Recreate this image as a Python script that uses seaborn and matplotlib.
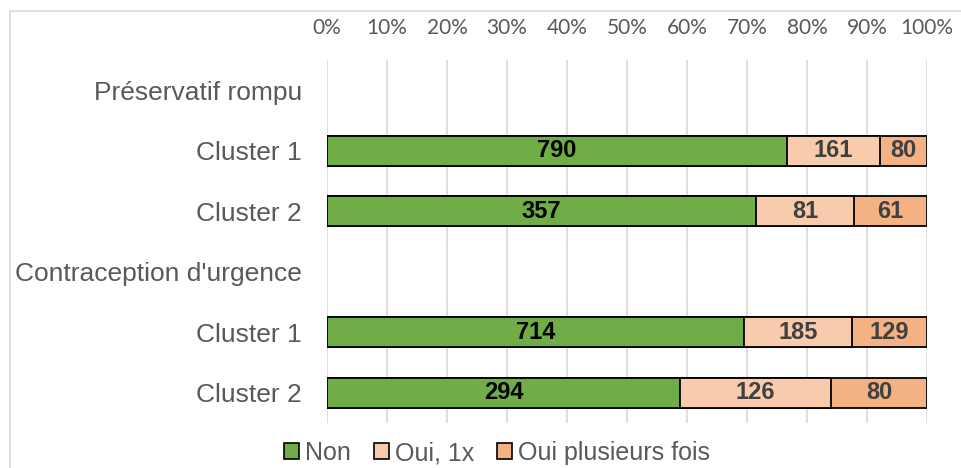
import numpy as np
import pandas as pd
import matplotlib
matplotlib.use("Agg")
import matplotlib.pyplot as plt
from matplotlib import font_manager
from matplotlib.patches import Patch
from matplotlib.lines import Line2D
import seaborn as sns

# data ------------------------------------------------------------------------
row_labels = ["Préservatif rompu", "Cluster 1", "Cluster 2",
              "Contraception d'urgence", "Cluster 1", "Cluster 2"]
row_keys = ["h_pr", "pr_c1", "pr_c2", "h_cu", "cu_c1", "cu_c2"]
bar_keys = ["pr_c1", "pr_c2", "cu_c1", "cu_c2"]
non = [790, 357, 714, 294]
oui_1x = [161, 81, 185, 126]
oui_plus = [80, 61, 129, 80]
series_names = ["Non", "Oui, 1x", "Oui plusieurs fois"]
tick_labels = ["0%", "10%", "20%", "30%", "40%", "50%", "60%", "70%", "80%", "90%", "100%"]

colors = ["#70AD47", "#F8CBAD", "#F4B183"]

df = pd.DataFrame({"key": bar_keys, "non": non, "oui1": oui_1x, "plus": oui_plus})
total = df["non"] + df["oui1"] + df["plus"]
df["p_non"] = df["non"] / total * 100
df["p_oui1"] = df["oui1"] / total * 100
df["p_plus"] = df["plus"] / total * 100
df["c1"] = df["p_non"]
df["c2"] = df["p_non"] + df["p_oui1"]
df["c3"] = df["c2"] + df["p_plus"]

# plotting --------------------------------------------------------------------
sns.set_style("white")
plt.rcParams["font.family"] = ["Liberation Sans", "DejaVu Sans"]

# narrow bold font for the value labels if there is one
names = {f.name for f in font_manager.fontManager.ttflist}
if "Liberation Sans Narrow" in names:
    lab_font = {"family": ["Liberation Sans Narrow", "Liberation Sans"], "size": 19}
else:
    lab_font = {"family": ["Liberation Sans", "DejaVu Sans"], "size": 17}

fig, ax = plt.subplots(figsize=(9.61, 4.68), dpi=100)
fig.subplots_adjust(left=0.3403, right=0.9646, top=0.8718, bottom=0.0962)

# stacked by overlaying cumulative bars (back to front)
for col, c in [("c3", colors[2]), ("c2", colors[1]), ("c1", colors[0])]:
    sns.barplot(data=df, x=col, y="key", order=row_keys, orient="h",
                color=c, width=0.5, edgecolor="black", linewidth=1.3,
                saturation=1, ax=ax, zorder=3)

# value labels in the middle of each segment
pos = {k: i for i, k in enumerate(row_keys)}
for _, r in df.iterrows():
    y = pos[r["key"]]
    ax.text(r["c1"] / 2, y, str(r["non"]), ha="center", va="center",
            fontweight="bold", color="black", zorder=5, **lab_font)
    ax.text((r["c1"] + r["c2"]) / 2, y, str(r["oui1"]), ha="center", va="center",
            fontweight="bold", color="#404040", zorder=5, **lab_font)
    ax.text((r["c2"] + r["c3"]) / 2, y, str(r["plus"]), ha="center", va="center",
            fontweight="bold", color="#404040", zorder=5, **lab_font)

ax.set_xlim(0, 100)
ax.set_ylim(5.5, -0.5)
ax.set_xticks(np.arange(0, 101, 10))
ax.set_xticklabels(tick_labels, fontsize=15, color="#595959", family=["Lato", "DejaVu Sans"])
ax.set_yticks(range(len(row_keys)))
ax.set_yticklabels(row_labels, fontsize=19, color="#595959")
ax.xaxis.tick_top()
ax.tick_params(axis="x", length=0, pad=16)
ax.tick_params(axis="y", length=0, pad=18)
ax.set_xlabel("")
ax.set_ylabel("")
ax.grid(axis="x", color="#d9d9d9", linewidth=1.2, zorder=0)
ax.set_axisbelow(True)
for s in ax.spines.values():
    s.set_visible(False)

handles = [Patch(facecolor=c, edgecolor="black", linewidth=1.2) for c in colors]
fig.legend(handles, series_names, loc="center", bbox_to_anchor=(497 / 961, 1 - 453 / 468),
           ncol=3, frameon=False, fontsize=18, handlelength=0.6, handleheight=0.6,
           handletextpad=0.25, columnspacing=0.9, labelcolor="#595959")

# chart area border (left / top only visible in the crop)
fig.add_artist(Line2D([9.5 / 961, 9.5 / 961], [0, 1 - 11 / 468], color="#d9d9d9", lw=1.2))
fig.add_artist(Line2D([9.5 / 961, 1], [1 - 11 / 468, 1 - 11 / 468], color="#d9d9d9", lw=1.2))

plt.savefig("out.png", dpi=100)
